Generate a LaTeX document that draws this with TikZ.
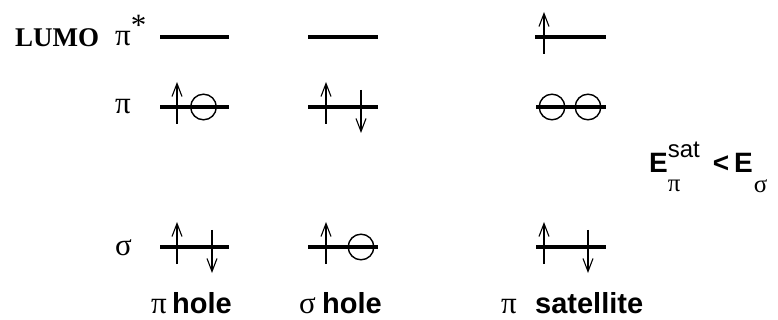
\documentclass[tikz,border=0pt]{standalone}
\usepackage{fontspec}
\setmainfont{Liberation Serif}
\setsansfont{Liberation Sans}
\usetikzlibrary{arrows.meta}
\tikzset{
  level/.style={line width=3.6pt},
  spin/.style={line width=1.3pt,-{Straight Barb[length=13pt,width=10pt,line width=1.1pt]}},
  holec/.style={line width=1.4pt},
  txt/.style={inner sep=0pt,anchor=base west},
  pics/spinup/.style={code={\draw[spin] (0,17) -- (0,-25);}},
  pics/spindown/.style={code={\draw[spin] (0,-17) -- (0,26);}},
  pics/holecirc/.style={code={\draw[holec] (0,0) circle[radius=12.8pt];}},
}
\newcommand{\grk}{\fontsize{31}{33}\selectfont}
\newcommand{\lbl}{\sffamily\bfseries\fontsize{29}{31}\selectfont}
\begin{document}
\begin{tikzpicture}[x=1pt,y=-1pt]
\useasboundingbox (0,0) rectangle (778,320);
% row labels
\node[txt] (lumo) at (15,47) {\fontsize{27}{29}\selectfont\bfseries LUMO};
\node[txt] (pistar) at (115,46) {\grk π\raisebox{10pt}{*}};
\node[txt] (pi) at (115,114) {\grk π};
\node[txt] (sigma) at (115,255) {\grk σ};
% column 1: pi hole
\coordinate (a1) at (160,37); \coordinate (b1) at (229,37);
\coordinate (a2) at (160,107); \coordinate (b2) at (229,107);
\coordinate (a3) at (160,247); \coordinate (b3) at (229,247);
\draw[level] (a1) -- (b1);
\draw[level] (a2) -- (b2);
\draw[level] (a3) -- (b3);
\pic at (177,107) {spinup};
\pic at (203.5,107) {holecirc};
\pic at (177,247) {spinup};
\pic at (212,247) {spindown};
% column 2: sigma hole
\coordinate (c1) at (308,37); \coordinate (d1) at (378,37);
\coordinate (c2) at (308,107); \coordinate (d2) at (378,107);
\coordinate (c3) at (308,247); \coordinate (d3) at (378,247);
\draw[level] (c1) -- (d1);
\draw[level] (c2) -- (d2);
\draw[level] (c3) -- (d3);
\pic at (326,107) {spinup};
\pic at (361,107) {spindown};
\pic at (326,247) {spinup};
\pic at (361,247) {holecirc};
% column 3: pi satellite
\coordinate (e1) at (535,37); \coordinate (f1) at (606,37);
\coordinate (e2) at (536,107); \coordinate (f2) at (606,107);
\coordinate (e3) at (536,247); \coordinate (f3) at (606,247);
\draw[level] (e1) -- (f1);
\draw[level] (e2) -- (f2);
\draw[level] (e3) -- (f3);
\pic at (544,37) {spinup};
\pic at (552,107) {holecirc};
\pic at (588,107) {holecirc};
\pic at (544,247) {spinup};
\pic at (588,247) {spindown};
% bottom labels
\node[txt] (pih) at (151,313) {\grk π};
\node[txt] (hole1) at (172,313) {\lbl hole};
\node[txt] (sigh) at (299,313) {\grk σ};
\node[txt] (hole2) at (322,313) {\lbl hole};
\node[txt] (pis) at (501,313) {\grk π};
\node[txt] (sat) at (535,313) {\lbl satellite};
% energy relation
\node[txt] (erel) at (649,173) {\sffamily\bfseries\fontsize{28}{30}\selectfont E\makebox[0pt][l]{\raisebox{15pt}{\mdseries\fontsize{24}{26}\selectfont sat}}\makebox[0pt][l]{\raisebox{-19pt}{\rmfamily\mdseries\fontsize{25}{26}\selectfont π}}\hspace{45pt}<\kern5pt E\kern1pt\raisebox{-20pt}{\rmfamily\mdseries\fontsize{25}{26}\selectfont σ}};
\end{tikzpicture}
\end{document}
